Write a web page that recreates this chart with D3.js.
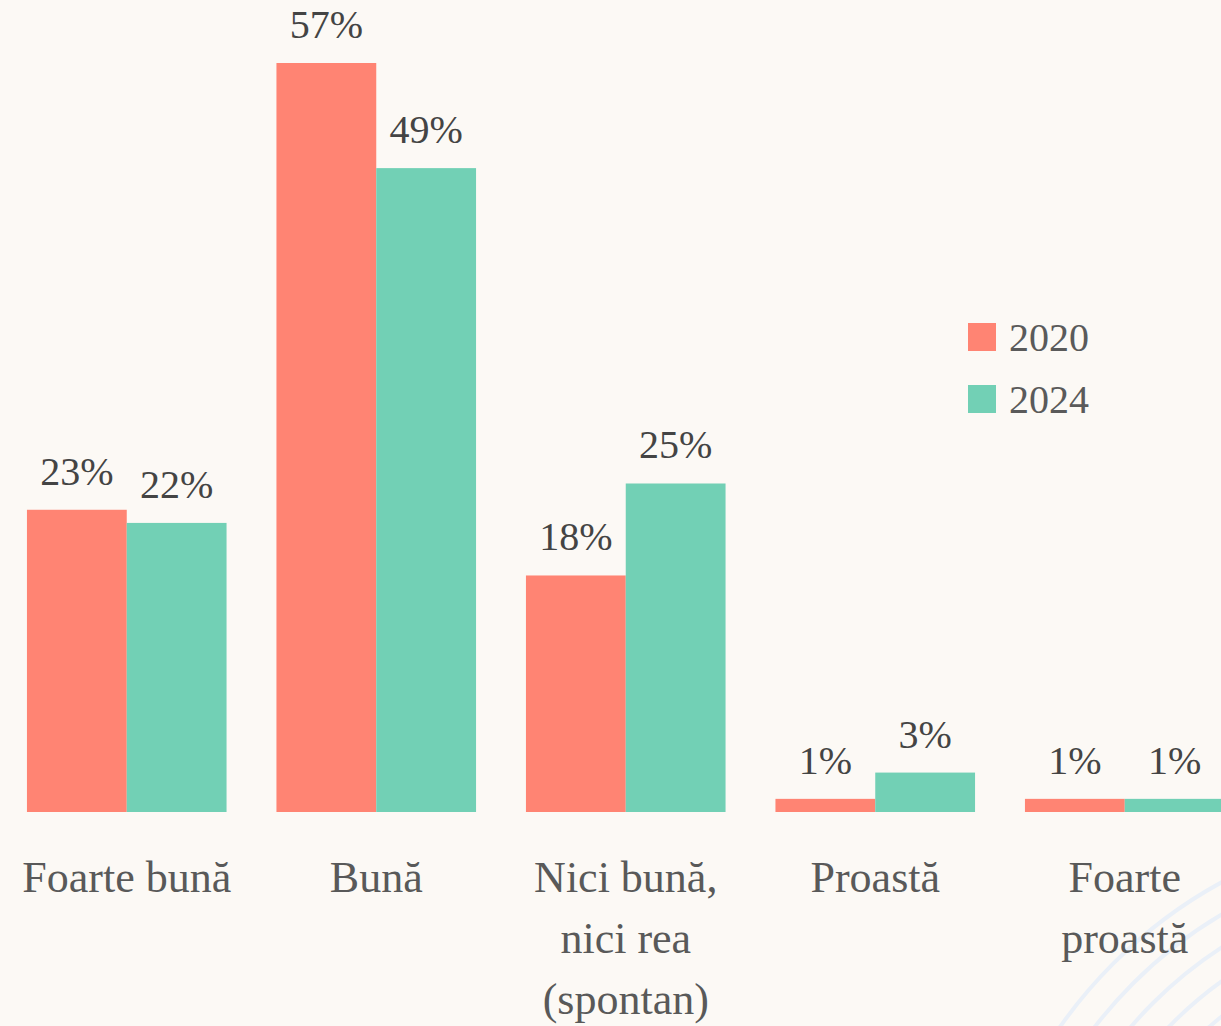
<!DOCTYPE html>
<meta charset="utf-8">
<style>
body { margin: 0; background: #fcf9f5; }
svg { display: block; }
.value { font-family: "Times New Roman", "Liberation Serif", "DejaVu Serif", serif; font-size: 40px; fill: #444; text-anchor: middle; }
.axis text { font-family: "Times New Roman", "Liberation Serif", "DejaVu Serif", serif; font-size: 44px; fill: #595959; }
.legend text { font-family: "Times New Roman", "Liberation Serif", "DejaVu Serif", serif; font-size: 40px; fill: #5a5a5a; }
.arcs path { fill: none; stroke: #eaf0f8; stroke-width: 4px; }
</style>
<svg width="1221" height="1026"></svg>
<script src="https://cdn.jsdelivr.net/npm/d3@7"></script>
<script>

// categories, line breaks marked with "|"
var categories = ["Foarte bună", "Bună", "Nici bună,|nici rea|(spontan)", "Proastă", "Foarte|proastă"];
var years = ["2020", "2024"];
var values2020 = [23, 57, 18, 1, 1];
var values2024 = [22, 49, 25, 3, 1];
var colors = ["#ff8473", "#72d0b5"];

var svg = d3.select("svg"),
    width = +svg.attr("width"),
    height = +svg.attr("height");

svg.append("rect").attr("width", width).attr("height", height).attr("fill", "#fcf9f5");

// faint decorative arcs, bottom right
var arcs = svg.append("g").attr("class", "arcs");
[476, 448, 420, 392, 364].forEach(function(r) {
  arcs.append("path")
      .attr("d", d3.arc()({innerRadius: r, outerRadius: r, startAngle: -Math.PI / 2, endAngle: 0}))
      .attr("transform", "translate(1450,1300)");
});

var rows = categories.map(function(c, i) {
  return {cat: c, vals: [values2020[i], values2024[i]]};
});

var x = d3.scaleBand()
    .domain(categories)
    .range([2, 1249.5])
    .paddingInner(0.2)
    .paddingOuter(0.1);

var xs = d3.scaleBand()
    .domain(years)
    .range([0, x.bandwidth()]);

var y = d3.scaleLinear()
    .domain([0, 57])
    .range([812, 63]);

var group = svg.append("g")
  .selectAll("g")
  .data(rows)
  .enter().append("g")
    .attr("transform", function(d) { return "translate(" + x(d.cat) + ",0)"; });

group.selectAll("rect")
  .data(function(d) { return d.vals.map(function(v, j) { return {year: years[j], v: v, j: j}; }); })
  .enter().append("rect")
    .attr("x", function(d) { return xs(d.year); })
    .attr("y", function(d) { return y(d.v); })
    .attr("width", xs.bandwidth())
    .attr("height", function(d) { return y(0) - y(d.v); })
    .attr("fill", function(d) { return colors[d.j]; });

group.selectAll("text")
  .data(function(d) { return d.vals.map(function(v, j) { return {year: years[j], v: v}; }); })
  .enter().append("text")
    .attr("class", "value")
    .attr("x", function(d) { return xs(d.year) + xs.bandwidth() / 2; })
    .attr("y", function(d) { return y(d.v) - 25; })
    .text(function(d) { return d.v + "%"; });

// category axis
var axis = svg.append("g")
    .attr("class", "axis")
    .attr("transform", "translate(0," + y(0) + ")")
    .call(d3.axisBottom(x).tickSize(0).tickPadding(0));

axis.select(".domain").remove();
axis.selectAll(".tick text")
    .attr("dy", null)
    .attr("y", 80)
    .attr("font-family", null)
    .attr("font-size", null)
    .each(function(d) {
      var t = d3.select(this);
      var lines = d.split("|");
      t.text(null);
      lines.forEach(function(l, i) {
        t.append("tspan").attr("x", 0).attr("y", 80 + i * 61).text(l);
      });
    });
axis.attr("font-family", null).attr("font-size", null);

// legend
var legend = svg.append("g").attr("class", "legend")
  .selectAll("g")
  .data(years)
  .enter().append("g")
    .attr("transform", function(d, i) { return "translate(968," + (323 + i * 62) + ")"; });

legend.append("rect")
    .attr("width", 28)
    .attr("height", 28)
    .attr("fill", function(d, i) { return colors[i]; });

legend.append("text")
    .attr("x", 41)
    .attr("y", 28)
    .text(function(d) { return d; });

</script>
